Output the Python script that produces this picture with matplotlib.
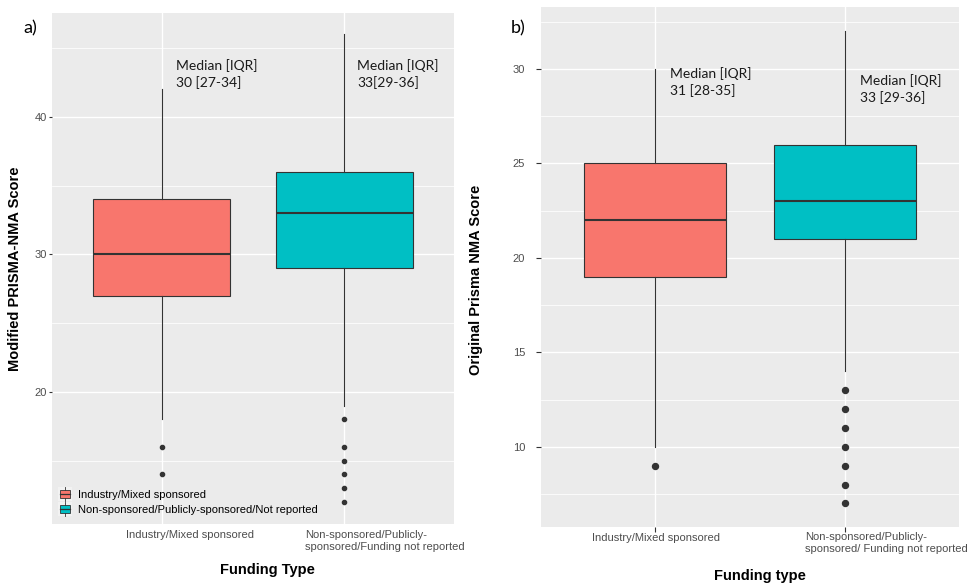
import matplotlib
matplotlib.use("Agg")
import matplotlib.pyplot as plt
from matplotlib.legend_handler import HandlerBase
from matplotlib.patches import Rectangle, Patch
from matplotlib.lines import Line2D
from matplotlib.ticker import MultipleLocator
from matplotlib.transforms import blended_transform_factory, offset_copy

plt.rcParams["font.family"] = ["Liberation Sans", "DejaVu Sans"]

# ---- data -------------------------------------------------------------
groups = ["Industry/Mixed sponsored",
          "Non-sponsored/Publicly-sponsored/Not reported"]
colors = ["#F8766D", "#00BFC4"]

# panel a: modified PRISMA-NMA score
mod_med = [30, 33]
mod_q1 = [27, 29]
mod_q3 = [34, 36]
mod_whislo = [18, 19]
mod_whishi = [42, 46]
mod_fliers = [[16, 14], [18, 16, 15, 14, 13, 12]]
mod_notes = ["Median [IQR]\n30 [27-34]", "Median [IQR]\n33[29-36]"]
mod_xticklabels = ["Industry/Mixed sponsored",
                   "Non-sponsored/Publicly-\nsponsored/Funding not reported"]

# panel b: original PRISMA-NMA score
orig_med = [22, 23]
orig_q1 = [19, 21]
orig_q3 = [25, 26]
orig_whislo = [10, 14]
orig_whishi = [30, 32]
orig_fliers = [[9], [13, 12, 11, 10, 9, 8, 7]]
orig_notes = ["Median [IQR]\n31 [28-35]", "Median [IQR]\n33 [29-36]"]
orig_xticklabels = ["Industry/Mixed sponsored",
                    "Non-sponsored/Publicly-\nsponsored/ Funding not reported"]

PANEL = "#EBEBEB"
DARK = "#333333"
TICKTXT = "#4D4D4D"
NOTE_FONT = ["Lato", "DejaVu Sans"]


def build_stats(med, q1, q3, lo, hi, fl):
    return [dict(med=m, q1=a, q3=b, whislo=l, whishi=h, fliers=f)
            for m, a, b, l, h, f in zip(med, q1, q3, lo, hi, fl)]


class BoxKey(HandlerBase):
    """Legend key drawn as a miniature box-and-whisker glyph."""

    def create_artists(self, legend, orig_handle, xdescent, ydescent,
                       width, height, fontsize, trans):
        fc = orig_handle.get_facecolor()
        x0, y0 = -xdescent, -ydescent
        bg = Rectangle((x0, y0), width, height, facecolor="#F2F2F2",
                       edgecolor="none", transform=trans)
        bw, bh = width * 0.78, height * 0.62
        bx, by = x0 + (width - bw) / 2, y0 + (height - bh) / 2
        box = Rectangle((bx, by), bw, bh, facecolor=fc, edgecolor=DARK,
                        lw=0.6, transform=trans)
        cx = x0 + width / 2
        med = Line2D([bx, bx + bw], [by + bh / 2] * 2, color=DARK, lw=0.9,
                     transform=trans)
        wt = Line2D([cx, cx], [by + bh, y0 + height], color=DARK, lw=0.6,
                    transform=trans)
        wb = Line2D([cx, cx], [y0, by], color=DARK, lw=0.6, transform=trans)
        return [bg, box, med, wt, wb]


def draw_panel(ax, stats, flier_size):
    ax.set_facecolor(PANEL)
    for s in ax.spines.values():
        s.set_visible(False)
    ax.set_axisbelow(True)
    bp = ax.bxp(stats, positions=[1, 2], widths=0.75, patch_artist=True,
                showcaps=False,
                boxprops=dict(edgecolor=DARK, lw=0.8),
                whiskerprops=dict(color=DARK, lw=0.8),
                medianprops=dict(color=DARK, lw=1.5),
                flierprops=dict(marker="o", markerfacecolor=DARK,
                                markeredgecolor=DARK, markersize=flier_size))
    for patch, c in zip(bp["boxes"], colors):
        patch.set_facecolor(c)
    ax.set_xlim(0.4, 2.6)
    ax.set_xticks([1, 2])
    ax.set_xticklabels(["", ""])
    ax.grid(which="major", color="white", lw=1.0)
    ax.grid(which="minor", axis="y", color="white", lw=0.55)


fig = plt.figure(figsize=(9.72, 5.86), dpi=100)
fig.patch.set_facecolor("white")

# ---- panel a ----------------------------------------------------------
axa = fig.add_axes([52 / 972, 1 - 524 / 586, 402 / 972, 511 / 586])
draw_panel(axa, build_stats(mod_med, mod_q1, mod_q3, mod_whislo,
                            mod_whishi, mod_fliers), 3.0)
axa.set_ylim(10.4, 47.56)
axa.yaxis.set_major_locator(MultipleLocator(10))
axa.yaxis.set_minor_locator(MultipleLocator(5))
axa.tick_params(axis="y", which="major", length=2.5, pad=1, color=DARK,
                labelcolor=TICKTXT, labelsize=8)
axa.tick_params(axis="y", which="minor", length=0)
axa.tick_params(axis="x", length=0)
axa.set_ylabel("Modified PRISMA-NMA Score", fontsize=10.5, fontweight="bold")
axa.yaxis.set_label_coords(-0.075, 0.5)
axa.set_xlabel("Funding Type", fontsize=10.5, fontweight="bold")
axa.xaxis.set_label_coords(0.535, -0.076)

trans_a = blended_transform_factory(axa.transData, axa.transAxes)
for x, lab, dx in zip([1, 2], mod_xticklabels, [-36, -39]):
    axa.text(x, 0, lab, transform=offset_copy(trans_a, fig, x=dx, y=-6,
                                               units="dots"),
             ha="left", va="top", fontsize=8, color=TICKTXT)

for x, y, note in zip([1.081, 2.070], [43.1, 43.1], mod_notes):
    axa.text(x, y, note, ha="left", va="center", fontsize=10,
             family=NOTE_FONT, color="#1A1A1A", linespacing=1.4)

handles = [Patch(facecolor=c) for c in colors]
axa.legend(handles, groups, handler_map={Patch: BoxKey()},
           loc="lower left", bbox_to_anchor=(6 / 402, 8 / 511),
           frameon=False, fontsize=8, borderpad=0, borderaxespad=0,
           handlelength=1.25, handleheight=1.55, handletextpad=0.55,
           labelspacing=0.1)

# ---- panel b ----------------------------------------------------------
axb = fig.add_axes([541 / 972, 1 - 527 / 586, 418 / 972, 520 / 586])
draw_panel(axb, build_stats(orig_med, orig_q1, orig_q3, orig_whislo,
                            orig_whishi, orig_fliers), 4.3)
axb.set_ylim(5.75, 33.28)
axb.yaxis.set_major_locator(MultipleLocator(5))
axb.yaxis.set_minor_locator(MultipleLocator(2.5))
axb.tick_params(axis="y", which="major", length=3.3, pad=8, color=DARK,
                labelcolor=TICKTXT, labelsize=8)
axb.tick_params(axis="y", which="minor", length=0)
axb.tick_params(axis="x", length=3.3, color=DARK)
axb.set_ylabel("Original Prisma NMA Score", fontsize=10.5, fontweight="bold")
axb.yaxis.set_label_coords(-0.139, 0.475)
axb.set_xlabel("Funding type", fontsize=10.5, fontweight="bold")
axb.xaxis.set_label_coords(0.524, -0.081)

trans_b = blended_transform_factory(axb.transData, axb.transAxes)
axb.text(1, 0, orig_xticklabels[0],
         transform=offset_copy(trans_b, fig, x=1, y=-6, units="dots"),
         ha="center", va="top", fontsize=8, color=TICKTXT)
axb.text(2, 0, orig_xticklabels[1],
         transform=offset_copy(trans_b, fig, x=-40, y=-5, units="dots"),
         ha="left", va="top", fontsize=8, color=TICKTXT)

for x, y, note in zip([1.081, 2.081], [29.31, 28.94], orig_notes):
    axb.text(x, y, note, ha="left", va="center", fontsize=10,
             family=NOTE_FONT, color="#1A1A1A", linespacing=1.4)

fig.text(23 / 972, 1 - 28 / 586, "a)", ha="left", va="center", fontsize=13,
         family=NOTE_FONT, color="black")
fig.text(511 / 972, 1 - 28 / 586, "b)", ha="left", va="center", fontsize=13,
         family=NOTE_FONT, color="black")

fig.savefig("out.png", dpi=100, facecolor="white")
